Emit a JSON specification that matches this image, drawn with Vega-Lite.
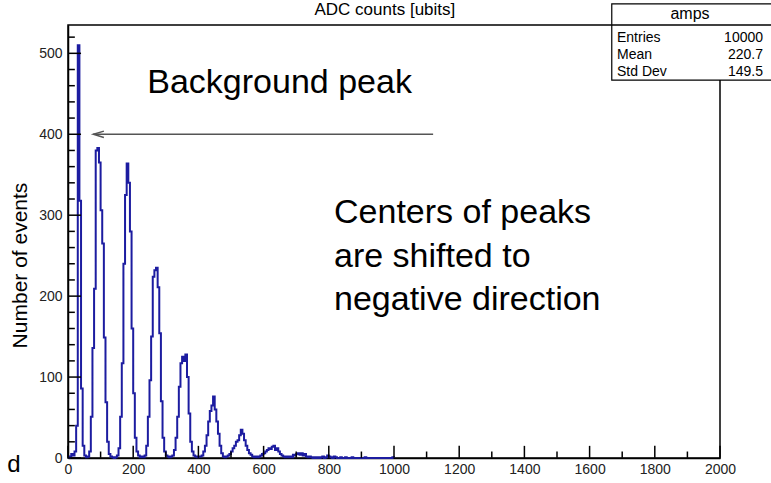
{
  "$schema": "https://vega.github.io/schema/vega-lite/v6.json",
  "width": 652,
  "height": 433,
  "autosize": {"type": "none"},
  "padding": {"left": 68, "top": 25, "right": 51, "bottom": 25},
  "background": "white",
  "config": {"view": {"stroke": "black", "strokeWidth": 1.5}, "font": "Liberation Sans", "axis": {"labelOverlap": false}},
  "resolve": {"axis": {"x": "independent", "y": "independent"}},
  "datasets": {
    "hist": [
      {"adc":0,"n":0},{"adc":5,"n":2},{"adc":10,"n":5},{"adc":15,"n":3},{"adc":20,"n":8},{"adc":25,"n":40},{"adc":30,"n":510},{"adc":35,"n":318},{"adc":40,"n":86},{"adc":45,"n":15},{"adc":50,"n":3},{"adc":55,"n":1},
      {"adc":60,"n":2},{"adc":65,"n":8},{"adc":70,"n":51},{"adc":75,"n":136},{"adc":80,"n":209},{"adc":85,"n":380},{"adc":90,"n":383},{"adc":95,"n":365},{"adc":100,"n":306},{"adc":105,"n":265},{"adc":110,"n":149},{"adc":115,"n":69},{"adc":120,"n":20},{"adc":125,"n":5},{"adc":130,"n":2},{"adc":135,"n":1},{"adc":140,"n":0},{"adc":145,"n":1},
      {"adc":150,"n":3},{"adc":155,"n":12},{"adc":160,"n":51},{"adc":165,"n":117},{"adc":170,"n":240},{"adc":175,"n":325},{"adc":180,"n":364},{"adc":185,"n":340},{"adc":190,"n":280},{"adc":195,"n":160},{"adc":200,"n":80},{"adc":205,"n":25},{"adc":210,"n":8},{"adc":215,"n":3},{"adc":220,"n":1},{"adc":225,"n":2},{"adc":230,"n":1},
      {"adc":235,"n":3},{"adc":240,"n":15},{"adc":245,"n":51},{"adc":250,"n":96},{"adc":255,"n":150},{"adc":260,"n":224},{"adc":265,"n":232},{"adc":270,"n":235},{"adc":275,"n":211},{"adc":280,"n":154},{"adc":285,"n":70},{"adc":290,"n":25},{"adc":295,"n":8},{"adc":300,"n":3},{"adc":305,"n":2},{"adc":310,"n":1},{"adc":315,"n":2},
      {"adc":320,"n":3},{"adc":325,"n":10},{"adc":330,"n":25},{"adc":335,"n":51},{"adc":340,"n":88},{"adc":345,"n":117},{"adc":350,"n":125},{"adc":355,"n":120},{"adc":360,"n":128},{"adc":365,"n":100},{"adc":370,"n":55},{"adc":375,"n":20},{"adc":380,"n":8},{"adc":385,"n":3},{"adc":390,"n":2},{"adc":395,"n":1},{"adc":400,"n":2},{"adc":405,"n":2},
      {"adc":410,"n":3},{"adc":415,"n":8},{"adc":420,"n":15},{"adc":425,"n":28},{"adc":430,"n":45},{"adc":435,"n":58},{"adc":440,"n":65},{"adc":445,"n":76},{"adc":450,"n":60},{"adc":455,"n":45},{"adc":460,"n":30},{"adc":465,"n":15},{"adc":470,"n":6},{"adc":475,"n":2},{"adc":480,"n":1},{"adc":485,"n":2},
      {"adc":490,"n":3},{"adc":495,"n":5},{"adc":500,"n":8},{"adc":505,"n":12},{"adc":510,"n":15},{"adc":515,"n":20},{"adc":520,"n":22},{"adc":525,"n":28},{"adc":530,"n":35},{"adc":535,"n":30},{"adc":540,"n":22},{"adc":545,"n":15},{"adc":550,"n":10},{"adc":555,"n":6},{"adc":560,"n":4},{"adc":565,"n":2},{"adc":570,"n":1},{"adc":575,"n":2},{"adc":580,"n":1},{"adc":585,"n":2},
      {"adc":590,"n":3},{"adc":595,"n":5},{"adc":600,"n":6},{"adc":605,"n":8},{"adc":610,"n":10},{"adc":615,"n":12},{"adc":620,"n":11},{"adc":625,"n":14},{"adc":630,"n":15},{"adc":635,"n":10},{"adc":640,"n":12},{"adc":645,"n":8},{"adc":650,"n":5},{"adc":655,"n":3},{"adc":660,"n":2},{"adc":665,"n":1},{"adc":670,"n":2},{"adc":675,"n":1},
      {"adc":680,"n":2},{"adc":685,"n":1},{"adc":690,"n":4},{"adc":695,"n":3},{"adc":700,"n":5},{"adc":705,"n":6},{"adc":710,"n":4},{"adc":715,"n":6},{"adc":720,"n":3},{"adc":725,"n":5},{"adc":730,"n":2},{"adc":735,"n":1},{"adc":740,"n":2},{"adc":745,"n":1},{"adc":750,"n":0},{"adc":755,"n":1},{"adc":760,"n":0},{"adc":765,"n":1},
      {"adc":770,"n":0},{"adc":775,"n":1},{"adc":780,"n":2},{"adc":785,"n":0},{"adc":790,"n":1},{"adc":795,"n":3},{"adc":800,"n":2},{"adc":805,"n":1},{"adc":810,"n":0},{"adc":815,"n":2},{"adc":820,"n":1},{"adc":825,"n":0},{"adc":830,"n":0},{"adc":835,"n":1},{"adc":840,"n":0},{"adc":845,"n":0},{"adc":850,"n":1},{"adc":855,"n":0},{"adc":860,"n":0},{"adc":865,"n":0},{"adc":870,"n":1},{"adc":875,"n":0},{"adc":880,"n":0},{"adc":885,"n":0},{"adc":890,"n":0},{"adc":895,"n":0},{"adc":900,"n":0},{"adc":905,"n":0},{"adc":910,"n":1},{"adc":915,"n":0},{"adc":920,"n":0},{"adc":925,"n":0},{"adc":930,"n":0},{"adc":935,"n":0},{"adc":940,"n":0},{"adc":945,"n":0},{"adc":950,"n":0},{"adc":955,"n":0},{"adc":960,"n":0},{"adc":965,"n":0},{"adc":970,"n":0},{"adc":975,"n":0},{"adc":980,"n":0},{"adc":985,"n":0},{"adc":990,"n":0},{"adc":995,"n":1},{"adc":1000,"n":0}
    ],
    "stats": [
      {"label": "Entries", "value": "10000", "row": 519},
      {"label": "Mean", "value": "220.7", "row": 498},
      {"label": "Std Dev", "value": "149.5", "row": 477}
    ],
    "yticks": [{"v":0,"major":true},{"v":20,"major":false},{"v":40,"major":false},{"v":60,"major":false},{"v":80,"major":false},{"v":100,"major":true},{"v":120,"major":false},{"v":140,"major":false},{"v":160,"major":false},{"v":180,"major":false},{"v":200,"major":true},{"v":220,"major":false},{"v":240,"major":false},{"v":260,"major":false},{"v":280,"major":false},{"v":300,"major":true},{"v":320,"major":false},{"v":340,"major":false},{"v":360,"major":false},{"v":380,"major":false},{"v":400,"major":true},{"v":420,"major":false},{"v":440,"major":false},{"v":460,"major":false},{"v":480,"major":false},{"v":500,"major":true},{"v":520,"major":false}],
    "xticks": [{"v":0,"major":true},{"v":100,"major":false},{"v":200,"major":true},{"v":300,"major":false},{"v":400,"major":true},{"v":500,"major":false},{"v":600,"major":true},{"v":700,"major":false},{"v":800,"major":true},{"v":900,"major":false},{"v":1000,"major":true},{"v":1100,"major":false},{"v":1200,"major":true},{"v":1300,"major":false},{"v":1400,"major":true},{"v":1500,"major":false},{"v":1600,"major":true},{"v":1700,"major":false},{"v":1800,"major":true},{"v":1900,"major":false},{"v":2000,"major":true}],
    "one": [{}]
  },
  "layer": [
    {
      "data": {"name": "hist"},
      "mark": {"type": "line", "interpolate": "step-after", "color": "#1c1ca0", "strokeWidth": 2},
      "encoding": {
        "x": {
          "field": "adc", "type": "quantitative",
          "scale": {"domain": [0, 2000], "nice": false, "zero": false},
          "axis": {
            "title": null,
            "values": [0,200,400,600,800,1000,1200,1400,1600,1800,2000],
            "format": "d",
            "grid": false,
            "domainColor": "black", "domainWidth": 1.5,
            "ticks": false,
            "labelPadding": 4,
            "labelFontSize": 14, "labelColor": "#222", "labelFont": "Liberation Sans",
            "labelFlush": false, "labelOverlap": false
          }
        },
        "y": {
          "field": "n", "type": "quantitative",
          "scale": {"domain": [0, 535], "nice": false, "zero": false},
          "axis": {
            "title": "Number of events",
            "titleFontSize": 21, "titleFontWeight": "normal", "titleColor": "black", "titleFont": "Liberation Sans",
            "titleX": -48, "titleY": 240, "titleBaseline": "middle", "titleAngle": -90, "titleAlign": "center",
            "values": [0,100,200,300,400,500],
            "format": "d",
            "grid": false,
            "domainColor": "black", "domainWidth": 1.5,
            "ticks": false,
            "labelPadding": 6,
            "labelFontSize": 14, "labelColor": "#222", "labelFont": "Liberation Sans",
            "labelFlush": false, "labelOverlap": false
          }
        }
      }
    },
    {
      "data": {"name": "yticks"},
      "transform": [{"filter": "datum.major"}],
      "mark": {"type": "rule", "color": "black", "strokeWidth": 1.5},
      "encoding": {
        "x": {"datum": 0.2, "type": "quantitative", "axis": null},
        "x2": {"datum": 40},
        "y": {"field": "v", "type": "quantitative", "axis": null}
      }
    },
    {
      "data": {"name": "yticks"},
      "transform": [{"filter": "!datum.major"}],
      "mark": {"type": "rule", "color": "black", "strokeWidth": 1.5},
      "encoding": {
        "x": {"datum": 0.2, "type": "quantitative", "axis": null},
        "x2": {"datum": 21},
        "y": {"field": "v", "type": "quantitative", "axis": null}
      }
    },
    {
      "data": {"name": "xticks"},
      "transform": [{"filter": "datum.major"}],
      "mark": {"type": "rule", "color": "black", "strokeWidth": 1.5},
      "encoding": {
        "x": {"field": "v", "type": "quantitative", "axis": null},
        "y": {"datum": 0.2, "type": "quantitative", "axis": null},
        "y2": {"datum": 15}
      }
    },
    {
      "data": {"name": "xticks"},
      "transform": [{"filter": "!datum.major"}],
      "mark": {"type": "rule", "color": "black", "strokeWidth": 1.5},
      "encoding": {
        "x": {"field": "v", "type": "quantitative", "axis": null},
        "y": {"datum": 0.2, "type": "quantitative", "axis": null},
        "y2": {"datum": 8}
      }
    },
    {
      "data": {"name": "one"},
      "mark": {"type": "rule", "color": "#555", "strokeWidth": 1.5},
      "encoding": {
        "x": {"datum": 77, "type": "quantitative", "axis": null},
        "x2": {"datum": 1120},
        "y": {"datum": 400, "type": "quantitative", "axis": null}
      }
    },
    {
      "data": {"name": "one"},
      "mark": {"type": "point", "shape": "M 1 -0.6 L -1 0 L 1 0.6", "filled": false, "stroke": "#555", "strokeWidth": 1.5, "size": 110, "opacity": 1},
      "encoding": {
        "x": {"datum": 94, "type": "quantitative", "axis": null},
        "y": {"datum": 400, "type": "quantitative", "axis": null}
      }
    },
    {
      "data": {"name": "one"},
      "mark": {"type": "text", "text": "Background peak", "fontSize": 34, "font": "Liberation Sans", "color": "black", "align": "center", "baseline": "middle"},
      "encoding": {
        "x": {"datum": 649, "type": "quantitative", "axis": null},
        "y": {"datum": 463, "type": "quantitative", "axis": null}
      }
    },
    {
      "data": {"name": "one"},
      "mark": {"type": "text", "text": ["Centers of peaks", "are shifted to", "negative direction"], "fontSize": 34, "lineHeight": 43.5, "font": "Liberation Sans", "color": "black", "align": "left", "baseline": "middle"},
      "encoding": {
        "x": {"datum": 816, "type": "quantitative", "axis": null},
        "y": {"datum": 302.5, "type": "quantitative", "axis": null}
      }
    },
    {
      "data": {"name": "one"},
      "mark": {"type": "rect", "fill": "white", "stroke": "black", "strokeWidth": 1.2},
      "encoding": {
        "x": {"datum": 1668, "type": "quantitative", "axis": null},
        "x2": {"datum": 2200},
        "y": {"datum": 467, "type": "quantitative", "axis": null},
        "y2": {"datum": 561}
      }
    },
    {
      "data": {"name": "one"},
      "mark": {"type": "rule", "color": "black", "strokeWidth": 1.5},
      "encoding": {
        "x": {"datum": 1668, "type": "quantitative", "axis": null},
        "x2": {"datum": 2200},
        "y": {"datum": 535, "type": "quantitative", "axis": null}
      }
    },
    {
      "data": {"name": "one"},
      "mark": {"type": "text", "text": "amps", "fontSize": 16, "font": "Liberation Sans", "color": "black", "align": "center", "baseline": "middle"},
      "encoding": {
        "x": {"datum": 1908, "type": "quantitative", "axis": null},
        "y": {"datum": 548.6, "type": "quantitative", "axis": null}
      }
    },
    {
      "data": {"name": "stats"},
      "mark": {"type": "text", "fontSize": 14, "font": "Liberation Sans", "color": "black", "align": "left", "baseline": "middle"},
      "encoding": {
        "x": {"datum": 1684, "type": "quantitative", "axis": null},
        "y": {"field": "row", "type": "quantitative", "axis": null},
        "text": {"field": "label"}
      }
    },
    {
      "data": {"name": "stats"},
      "mark": {"type": "text", "fontSize": 14, "font": "Liberation Sans", "color": "black", "align": "right", "baseline": "middle"},
      "encoding": {
        "x": {"datum": 2132, "type": "quantitative", "axis": null},
        "y": {"field": "row", "type": "quantitative", "axis": null},
        "text": {"field": "value"}
      }
    },
    {
      "data": {"name": "one"},
      "mark": {"type": "text", "text": "ADC counts [ubits]", "fontSize": 17, "font": "Liberation Sans", "color": "black", "align": "center", "baseline": "middle"},
      "encoding": {
        "x": {"datum": 972, "type": "quantitative", "axis": null},
        "y": {"datum": 554, "type": "quantitative", "axis": null}
      }
    },
    {
      "data": {"name": "one"},
      "mark": {"type": "text", "text": "d", "fontSize": 24, "font": "Liberation Sans", "color": "black", "align": "center", "baseline": "middle"},
      "encoding": {
        "x": {"datum": -166, "type": "quantitative", "axis": null},
        "y": {"datum": -9, "type": "quantitative", "axis": null}
      }
    }
  ]
}
